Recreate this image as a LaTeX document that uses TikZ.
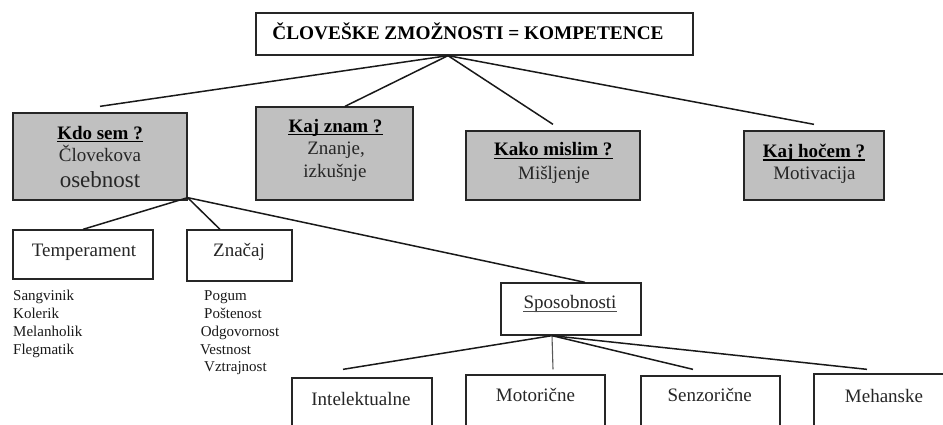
\documentclass[tikz,border=0pt]{standalone}
\usepackage{fontspec}
\setmainfont{Liberation Serif}
\definecolor{boxgray}{RGB}{192,192,192}
\tikzset{
  box/.style={draw=black!85, line width=1.3pt, rectangle, inner sep=0pt},
  greybox/.style={box, fill=boxgray},
  conn/.style={line width=1.5pt, draw=black!90},
  lbl/.style={anchor=base, inner sep=0pt, text=black!85, font=\fontsize{19}{22}\selectfont},
  head/.style={anchor=base, inner sep=0pt, text=black, font=\bfseries\fontsize{19}{22}\selectfont},
  listitem/.style={anchor=base west, inner sep=0pt, text=black!90, font=\fontsize{15}{18}\selectfont},
  uline/.style={line width=1.2pt}
}
\begin{document}
\begin{tikzpicture}[x=1pt, y=-1pt]
\useasboundingbox (0,0) rectangle (943,425);
\fill[white] (0,0) rectangle (943,425);
\clip (0,0) rectangle (943,425);

% boxes
\node[box, minimum width=437pt, minimum height=42pt] (top) at (474.5,34) {};
\node[greybox, minimum width=174pt, minimum height=87pt] (kdo) at (100,156.5) {};
\node[greybox, minimum width=157pt, minimum height=93pt] (znam) at (334.5,153.5) {};
\node[greybox, minimum width=174pt, minimum height=69pt] (kako) at (553,165.5) {};
\node[greybox, minimum width=140pt, minimum height=69pt] (hocem) at (814,165.5) {};
\node[box, minimum width=140pt, minimum height=49pt] (temp) at (83,254.5) {};
\node[box, minimum width=105pt, minimum height=51pt] (znacaj) at (239.5,255.5) {};
\node[box, minimum width=140pt, minimum height=52pt] (spos) at (571,309) {};
\node[box, minimum width=140pt, minimum height=67pt] (intel) at (362,411.5) {};
\node[box, minimum width=139pt, minimum height=70pt] (motor) at (535.5,410) {};
\node[box, minimum width=139pt, minimum height=69pt] (senz) at (710.5,410.5) {};
\node[box, minimum width=140pt, minimum height=71pt] (meh) at (884,409.5) {};

% connectors from the title box
\coordinate (topO) at ([xshift=-26.5pt]top.south);
\draw[conn] (topO) -- ([yshift=6pt]kdo.north);
\draw[conn] (topO) -- ([xshift=10.5pt]znam.north);
\draw[conn] (topO) -- ([yshift=6pt]kako.north);
\draw[conn] (topO) -- ([yshift=6pt]hocem.north);

% connectors from the personality box
\coordinate (kdoO) at ([yshift=3pt]kdo.south east);
\draw[conn] (kdoO) -- (temp.north);
\draw[conn] (kdoO) -- ([xshift=-19.5pt]znacaj.north);
\draw[conn] (kdoO) -- ([xshift=14pt]spos.north);

% connectors from the abilities box
\coordinate (sposO) at ([xshift=-19pt]spos.south);
\draw[conn] (sposO) -- ([xshift=-19pt,yshift=8pt]intel.north);
\draw[conn, line width=1.1pt, draw=black!65] (sposO) -- ([xshift=17.5pt,yshift=5pt]motor.north);
\draw[conn] (sposO) -- ([xshift=-17.5pt,yshift=6pt]senz.north);
\draw[conn] (sposO) -- ([xshift=-17pt,yshift=4pt]meh.north);

% title
\node[head, font=\bfseries\fontsize{19.3}{22}\selectfont] (title) at (468,40) {ČLOVEŠKE ZMOŽNOSTI = KOMPETENCE};

% grey boxes text
\node[head] (kdoA) at (100,139.3) {Kdo sem ?};
\node[lbl] (kdoB) at (100,161.7) {Človekova};
\node[lbl, font=\fontsize{23}{26}\selectfont] (kdoC) at (100,187.3) {osebnost};

\node[head] (znamA) at (335.5,132.3) {Kaj znam ?};
\node[lbl] (znamB) at (336,155) {Znanje,};
\node[lbl] (znamC) at (335,177.7) {izkušnje};

\node[head] (kakoA) at (553.3,156) {Kako mislim ?};
\node[lbl] (kakoB) at (554,180) {Mišljenje};

\node[head] (hocemA) at (814,157.5) {Kaj hočem ?};
\node[lbl] (hocemB) at (814.5,179) {Motivacija};

\foreach \n in {kdoA,znamA,kakoA,hocemA}
  \draw[uline] ([yshift=-2.6pt]\n.base west) -- ([yshift=-2.6pt]\n.base east);

% second level text
\node[lbl] (tempT) at (84,256) {Temperament};
\node[lbl] (znacajT) at (239,256.7) {Značaj};
\node[lbl] (sposT) at (570,308.3) {Sposobnosti};
\draw[uline, line width=0.8pt, draw=black!70] ([yshift=-3pt]sposT.base west) -- ([yshift=-3pt]sposT.base east);

% lists
\node[listitem] (t1) at (13,300.7) {Sangvinik};
\node[listitem] (t2) at (13,318.3) {Kolerik};
\node[listitem] (t3) at (13,336) {Melanholik};
\node[listitem] (t4) at (13,354) {Flegmatik};

\node[listitem] (z1) at (204,300.7) {Pogum};
\node[listitem] (z2) at (204,318.3) {Poštenost};
\node[listitem] (z3) at (200.7,336) {Odgovornost};
\node[listitem] (z4) at (200,354) {Vestnost};
\node[listitem] (z5) at (204,371.7) {Vztrajnost};

% bottom row text
\node[lbl] (intelT) at (361,405) {Intelektualne};
\node[lbl] (motorT) at (535.5,401) {Motorične};
\node[lbl] (senzT) at (709.7,401.7) {Senzorične};
\node[lbl] (mehT) at (884,402) {Mehanske};
\end{tikzpicture}
\end{document}
